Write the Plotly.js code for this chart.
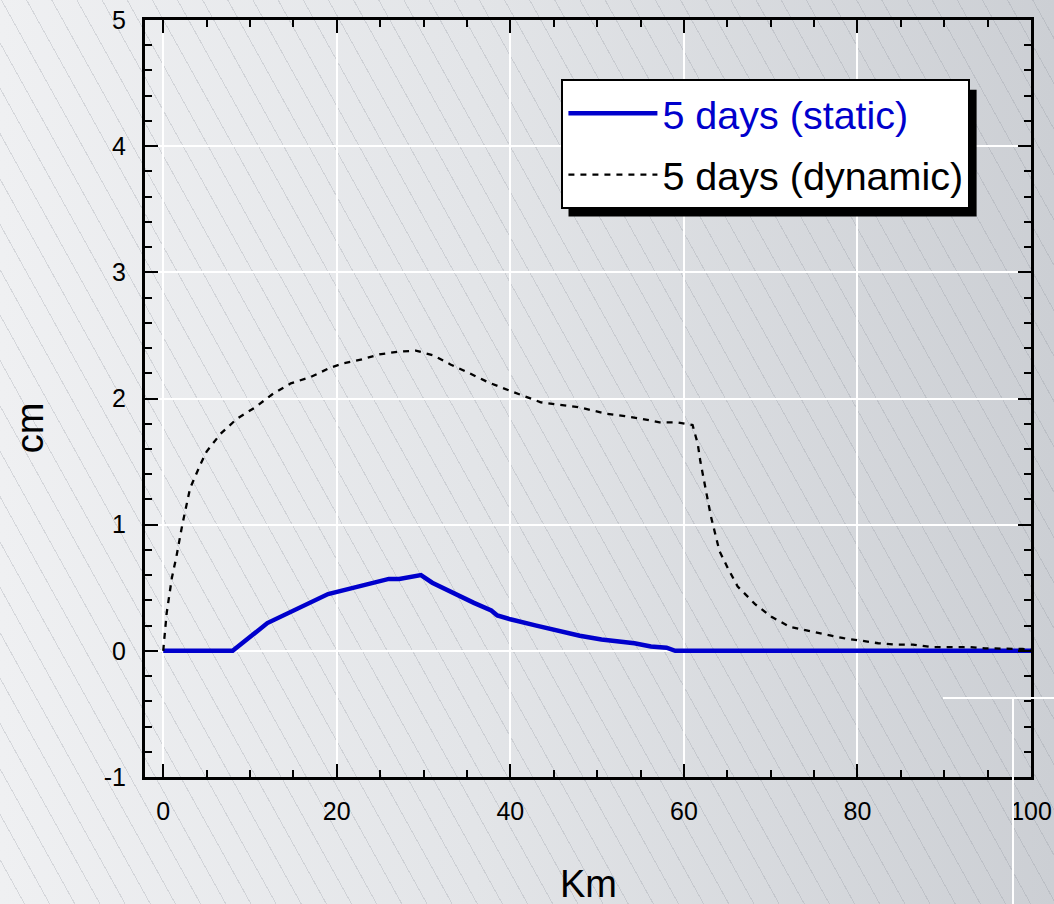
<!DOCTYPE html>
<html>
<head>
<meta charset="utf-8">
<script src="https://cdn.plot.ly/plotly-3.0.1.min.js"></script>
<style>
  html, body { margin: 0; padding: 0; }
  body {
    width: 1054px; height: 904px; overflow: hidden;
    background:
      repeating-linear-gradient(61deg, rgba(0,0,0,0) 0px, rgba(0,0,0,0) 21px, rgba(140,145,155,0.26) 21px, rgba(140,145,155,0.26) 22px),
      linear-gradient(to right, #eff0f2 0%, #e3e5e8 45%, #cccfd4 100%);
  }
  #chart { width: 1054px; height: 904px; }
</style>
</head>
<body>
<div id="chart"></div>
<script>
// ---- data ----
const staticKm = [0, 8, 12, 17, 19, 26, 27.2, 29.7, 31, 35.8, 37.8, 38.5, 40, 43, 45.5, 48, 50.5, 52, 54.3, 56.2, 58, 59, 100];
const staticCm = [0, 0, 0.22, 0.39, 0.45, 0.57, 0.57, 0.60, 0.54, 0.38, 0.32, 0.28, 0.25, 0.20, 0.16, 0.12, 0.09, 0.08, 0.06, 0.035, 0.025, 0, 0];

const dynamicKm = [0, 0.4, 1.0, 1.5, 2.2, 3.1, 4.3, 5.0, 6.6, 8.5, 10.6, 12.7, 14.7, 17, 19.1, 20.8, 22.9, 24.9, 27, 29.1, 31.2, 33.1, 35.3, 37.4, 40, 43.5, 48, 51, 53.2, 55.1, 57.2, 59.3, 61, 61.6, 61.9, 62.3, 62.7, 63.1, 63.6, 64.1, 65.1, 66.2, 68.2, 70.1, 72.2, 74.3, 76.2, 78.4, 80.5, 82.4, 84.3, 86.4, 88.6, 90.5, 92.8, 94.7, 96.6, 99, 100];
const dynamicCm = [0, 0.3, 0.58, 0.74, 1.0, 1.29, 1.48, 1.58, 1.72, 1.84, 1.93, 2.04, 2.12, 2.17, 2.24, 2.28, 2.31, 2.35, 2.37, 2.38, 2.34, 2.27, 2.20, 2.13, 2.06, 1.97, 1.93, 1.88, 1.86, 1.84, 1.81, 1.81, 1.79, 1.64, 1.50, 1.35, 1.21, 1.07, 0.93, 0.79, 0.65, 0.51, 0.37, 0.27, 0.19, 0.16, 0.13, 0.10, 0.08, 0.06, 0.05, 0.05, 0.03, 0.03, 0.03, 0.02, 0.02, 0.015, 0.01];

const seriesNames = ['5 days (static)', '5 days (dynamic)'];
const xTickVals = [0, 20, 40, 60, 80, 100];
const yTickVals = [-1, 0, 1, 2, 3, 4, 5];

const FONT = 'Liberation Sans, Arial, Helvetica, sans-serif';
const BLUE = '#0000cc';

const traces = [
  {
    x: staticKm, y: staticCm, type: 'scatter', mode: 'lines',
    name: '<span style="color:' + BLUE + '">' + seriesNames[0] + '</span>',
    line: { color: BLUE, width: 4.5 },
    legendgroup: 'a', legendrank: 1
  },
  {
    x: dynamicKm, y: dynamicCm, type: 'scatter', mode: 'lines',
    name: seriesNames[1],
    line: { color: '#000000', width: 2.3, dash: '6px,6px' },
    legendgroup: 'b', legendrank: 2
  }
];

const layout = {
  width: 1054, height: 904,
  margin: { l: 145, r: 23, t: 20, b: 127 },
  paper_bgcolor: 'rgba(0,0,0,0)',
  plot_bgcolor: 'rgba(0,0,0,0)',
  font: { family: FONT, color: '#000000', size: 24 },
  showlegend: true,
  legend: {
    x: 0.47, y: 0.922, xanchor: 'left', yanchor: 'top',
    bgcolor: '#ffffff', bordercolor: '#000000', borderwidth: 2,
    font: { family: FONT, size: 39.5, color: '#000000' },
    itemwidth: 89, tracegroupgap: 7, traceorder: 'grouped'
  },
  xaxis: {
    range: [-2.1, 100], tickvals: xTickVals, ticktext: xTickVals.map(String),
    ticks: 'inside', ticklen: 13, tickwidth: 2, tickcolor: '#000000',
    minor: { dtick: 5, tick0: 0, ticks: 'inside', ticklen: 7, tickwidth: 2, tickcolor: '#000000', showgrid: false },
    showline: true, linecolor: '#000000', linewidth: 3, mirror: 'allticks',
    showgrid: true, gridcolor: '#ffffff', gridwidth: 2,
    zeroline: true, zerolinecolor: '#ffffff', zerolinewidth: 2,
    tickfont: { size: 25, family: FONT }, ticklabelstandoff: 10
  },
  yaxis: {
    range: [-1, 5], tickvals: yTickVals, ticktext: yTickVals.map(String),
    ticks: 'inside', ticklen: 13, tickwidth: 2, tickcolor: '#000000',
    minor: { dtick: 0.2, tick0: 0, ticks: 'inside', ticklen: 7, tickwidth: 2, tickcolor: '#000000', showgrid: false },
    showline: true, linecolor: '#000000', linewidth: 3, mirror: 'allticks',
    showgrid: true, gridcolor: '#ffffff', gridwidth: 2,
    zeroline: true, zerolinecolor: '#ffffff', zerolinewidth: 2,
    tickfont: { size: 25, family: FONT }, ticklabelstandoff: 11
  },
  annotations: [
    { text: 'Km', xref: 'paper', yref: 'paper', x: 0.5, y: -0.142, xanchor: 'center', yanchor: 'middle',
      showarrow: false, font: { family: FONT, size: 38, color: '#000000' } },
    { text: 'cm', xref: 'paper', yref: 'paper', x: -0.1296, y: 0.461, xanchor: 'center', yanchor: 'middle',
      textangle: -90, showarrow: false, font: { family: FONT, size: 38, color: '#000000' } }
  ],
  shapes: [
    // legend drop shadow
    { type: 'rect', xref: 'paper', yref: 'paper', x0: 0.478, x1: 0.9386, y0: 0.7403, y1: 0.908,
      fillcolor: '#000000', line: { width: 0 }, layer: 'above' },
    // stray white guide lines at lower right
    { type: 'line', xref: 'paper', yref: 'paper', x0: 0.9006, x1: 1.03, y0: 0.1044, y1: 0.1044,
      line: { color: '#ffffff', width: 2 }, layer: 'above' },
    { type: 'line', xref: 'paper', yref: 'paper', x0: 0.9797, x1: 0.9797, y0: 0.1044, y1: -0.17,
      line: { color: '#ffffff', width: 2 }, layer: 'above' }
  ]
};

Plotly.newPlot('chart', traces, layout, { displayModeBar: false, staticPlot: true });
</script>
</body>
</html>
